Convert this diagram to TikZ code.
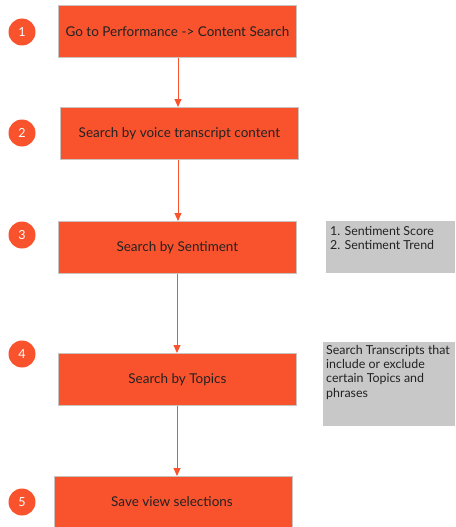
\documentclass[tikz,border=0pt]{standalone}
\usepackage{fontspec}
\setmainfont{Lato}
\usetikzlibrary{arrows.meta}
\definecolor{stepfill}{HTML}{F9532E}
\definecolor{stepedge}{HTML}{C9C2BE}
\definecolor{notefill}{HTML}{C8C8C8}
\definecolor{inktext}{HTML}{222222}
\tikzset{
  stepbox/.style={draw=stepedge, line width=0.8pt, fill=stepfill, text=inktext,
    minimum width=238pt, minimum height=52pt, inner sep=0pt, anchor=north west,
    font=\fontsize{13.5}{16}\selectfont},
  badge/.style={circle, fill=stepfill, text=white, minimum size=27pt, inner sep=0pt,
    font=\fontsize{12.5}{14}\selectfont},
  notebox/.style={fill=notefill, anchor=north west, inner sep=0pt},
  notetext/.style={text=inktext, anchor=north west, align=left, inner sep=0pt,
    font=\fontsize{12.4}{14.3}\selectfont},
  flow/.style={draw=stepfill, line width=1pt, -{Triangle[length=8pt,width=7pt]}}
}
\begin{document}
\begin{tikzpicture}[x=1pt, y=-1pt]
  \useasboundingbox (0,0) rectangle (455,527);
  \clip (0,0) rectangle (455,527);
  % steps
  \node[stepbox] (s1) at (58,5)   {Go to Performance -> Content Search};
  \node[stepbox] (s2) at (60,107) {Search by voice transcript content};
  \node[stepbox] (s3) at (58,221) {Search by Sentiment};
  \node[stepbox] (s4) at (58,353) {Search by Topics};
  \node[stepbox, minimum height=54pt] (s5) at (54,476) {};
  \node[text=inktext, font=\fontsize{13.5}{16}\selectfont] (s5t) at (172,502) {Save view selections};
  % step numbers
  \node[badge] (b1) at (22,32)  {1};
  \node[badge] (b2) at (22,133) {2};
  \node[badge] (b3) at (22,235) {3};
  \node[badge] (b4) at (22,354) {4};
  \node[badge] (b5) at (22,502) {5};
  % side notes
  \node[notebox, minimum width=129pt, minimum height=52pt] (n1) at (326,221) {};
  \node[notetext] (n1t) at (330,226) {1. Sentiment Score\\2. Sentiment Trend};
  \node[notebox, minimum width=132pt, minimum height=84pt] (n2) at (323,342) {};
  \node[notetext] (n2t) at (326,345)
        {Search Transcripts that\\include or exclude\\certain Topics and\\phrases};
  % connectors
  \draw[flow] (s1.south -| 178,0) -- (s2.north -| 178,0);
  \draw[flow] (s2.south -| 178,0) -- (s3.north -| 178,0);
  \draw[flow] (s3.south -| 177,0) -- (s4.north -| 177,0);
  \draw[flow] (s4.south -| 177,0) -- (s5.north -| 177,0);
\end{tikzpicture}
\end{document}
